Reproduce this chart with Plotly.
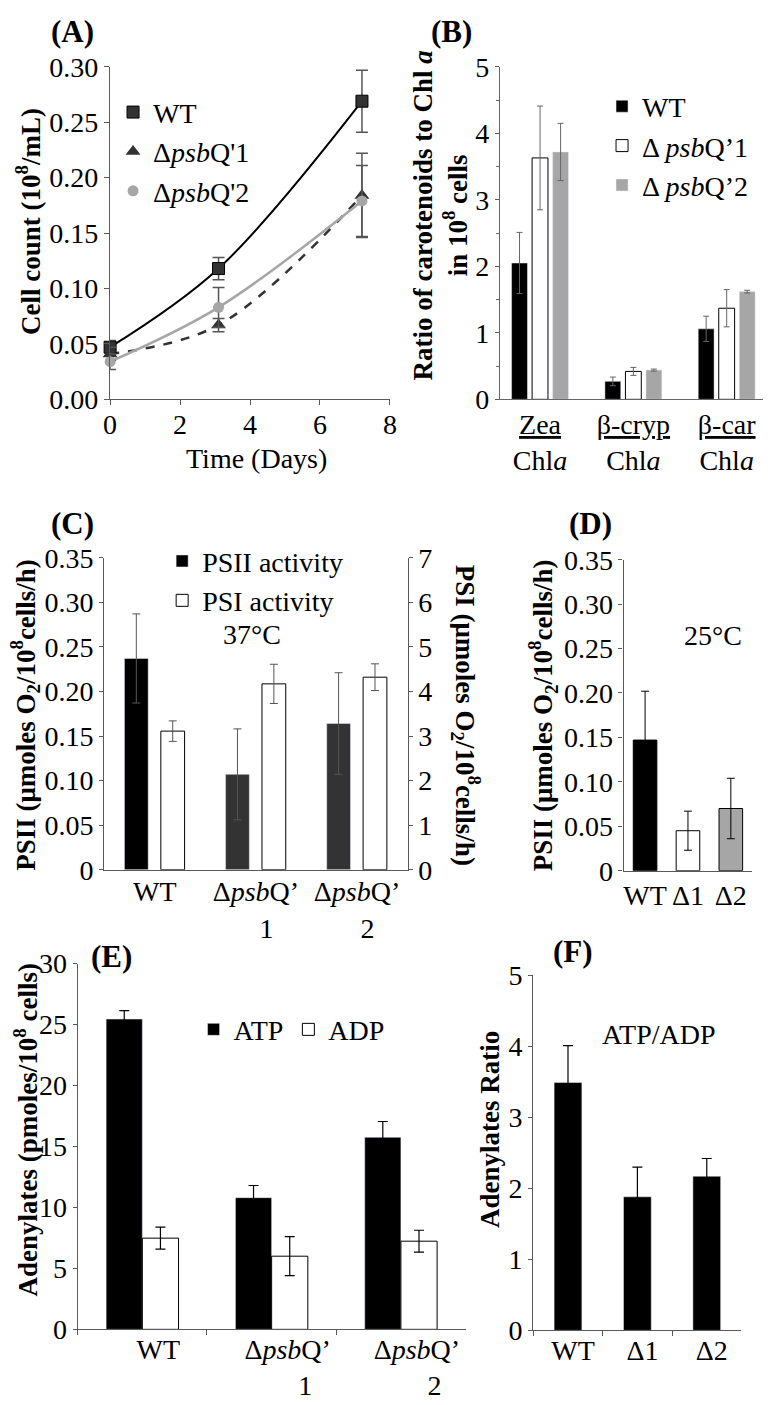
import plotly.graph_objects as go

# ---------------- data ----------------
# (A) growth curves
days = [0, 3.1, 7.2]
wt_count = [0.047, 0.118, 0.269]
wt_count_err = [0.006, 0.010, 0.028]
q1_count = [0.041, 0.067, 0.184]
q1_count_err = [0.006, 0.006, 0.038]
q2_count = [0.034, 0.083, 0.179]
q2_count_err = [0.007, 0.018, 0.032]
days_ticks = [0, 2, 4, 6, 8]

# (B) carotenoid ratios
carot_cats = ["<u>Zea</u><br>Chl<i>a</i>", "<u>β-cryp</u><br>Chl<i>a</i>", "<u>β-car</u><br>Chl<i>a</i>"]
wt_ratio = [2.05, 0.27, 1.06]
wt_ratio_err = [0.46, 0.065, 0.19]
q1_ratio = [3.63, 0.42, 1.37]
q1_ratio_err = [0.78, 0.06, 0.28]
q2_ratio = [3.72, 0.44, 1.62]
q2_ratio_err = [0.43, 0.015, 0.02]

# (C) PSII / PSI activity at 37 C
strains_c = ["WT", "Δ<i>psb</i>Q’<br>\u00a0\u00a0\u00a01", "Δ<i>psb</i>Q’<br>\u00a0\u00a0\u00a02"]
psii_37 = [0.237, 0.107, 0.164]
psii_37_err = [0.050, 0.051, 0.057]
psi_37 = [3.11, 4.17, 4.32]
psi_37_err = [0.23, 0.44, 0.30]
psii_ticks = [0, 0.05, 0.10, 0.15, 0.20, 0.25, 0.30, 0.35]
psii_ticktext = ["0", "0.05", "0.10", "0.15", "0.20", "0.25", "0.30", "0.35"]

# (D) PSII activity at 25 C
strains_short = ["WT", "Δ1", "Δ2"]
psii_25 = [0.147, 0.045, 0.070]
psii_25_err = [0.055, 0.022, 0.034]

# (E) adenylates
strains_e = ["WT", "Δ<i>psb</i>Q’<br>\u00a0\u00a0\u00a0\u00a0\u00a01",
             "Δ<i>psb</i>Q’<br>\u00a0\u00a0\u00a0\u00a0\u00a02"]
atp = [25.45, 10.8, 15.75]
atp_err = [0.7, 1.0, 1.3]
adp = [7.48, 6.0, 7.23]
adp_err = [0.9, 1.6, 0.9]

# (F) ATP/ADP ratio
atp_adp = [3.49, 1.88, 2.17]
atp_adp_err = [0.52, 0.42, 0.25]

# ---------------- layout helpers ----------------
W, H = 774, 1405
FONT = "Liberation Serif"
FS = 28
FT = 27
AX = "#595959"


def fx(px):
    return px / W


def fy(py):
    return 1 - py / H


fig = go.Figure()

# ---- (A) ----
line_styles = [
    (wt_count, dict(color="black", width=2, shape="spline")),
    (q1_count, dict(color="#333333", width=2.5, dash="dash", shape="spline")),
    (q2_count, dict(color="#a6a6a6", width=2.5, shape="spline")),
]
for yv, ln in line_styles:
    fig.add_trace(go.Scatter(x=days, y=yv, mode="lines", line=ln, showlegend=False,
                             xaxis="x", yaxis="y", cliponaxis=False, hoverinfo="skip"))

marker_sets = [
    ("WT", wt_count, wt_count_err, dict(symbol="square", size=12, color="#333333",
                                       line=dict(color="black", width=1))),
    ("Δ<i>psb</i>Q'1", q1_count, q1_count_err, dict(symbol="triangle-up", size=13, color="#333333")),
    ("Δ<i>psb</i>Q'2", q2_count, q2_count_err, dict(symbol="circle", size=11, color="#a6a6a6")),
]
for name, yv, ev, mk in marker_sets:
    fig.add_trace(go.Scatter(x=days, y=yv, mode="markers", marker=mk, name=name,
                             error_y=dict(type="data", array=ev, color="#555555", thickness=1.5, width=6),
                             xaxis="x", yaxis="y", cliponaxis=False, legend="legend"))

# ---- (B) ----
bw_b = 0.17
b_specs = [
    ("WT", wt_ratio, wt_ratio_err, dict(color="black"), -0.305),
    ("Δ <i>psb</i>Q’1", q1_ratio, q1_ratio_err, dict(color="white", line=dict(color="black", width=1)), -0.085),
    ("Δ <i>psb</i>Q’2", q2_ratio, q2_ratio_err, dict(color="#a6a6a6"), 0.135),
]
for name, yv, ev, mk, off in b_specs:
    fig.add_trace(go.Bar(x=carot_cats, y=yv, name=name, marker=mk, width=bw_b, offset=off,
                         error_y=dict(type="data", array=ev, color="#666666", thickness=1, width=3),
                         xaxis="x2", yaxis="y2", legend="legend2"))

# ---- (C) ----
fig.add_trace(go.Bar(x=strains_c, y=psii_37, name="PSII activity",
                     marker=dict(color=["black", "#333333", "#333333"]),
                     width=0.235, offset=-0.30,
                     error_y=dict(type="data", array=psii_37_err, color="#555555", thickness=1, width=4),
                     xaxis="x3", yaxis="y3", legend="legend3"))
fig.add_trace(go.Bar(x=strains_c, y=psi_37, name="PSI activity",
                     marker=dict(color="white", line=dict(color="black", width=1)),
                     width=0.235, offset=0.06,
                     error_y=dict(type="data", array=psi_37_err, color="#555555", thickness=1, width=4),
                     xaxis="x3", yaxis="y4", legend="legend3"))

# ---- (D) ----
fig.add_trace(go.Bar(x=strains_short, y=psii_25, showlegend=False,
                     marker=dict(color=["black", "white", "#a6a6a6"], line=dict(color="black", width=1)),
                     width=0.55,
                     error_y=dict(type="data", array=psii_25_err, color="black", thickness=1, width=4),
                     xaxis="x4", yaxis="y5"))

# ---- (E) ----
fig.add_trace(go.Bar(x=strains_e, y=atp, name="ATP", marker=dict(color="black"),
                     width=0.28, offset=-0.28,
                     error_y=dict(type="data", array=atp_err, color="black", thickness=1.2, width=5),
                     xaxis="x5", yaxis="y6", legend="legend4"))
fig.add_trace(go.Bar(x=strains_e, y=adp, name="ADP",
                     marker=dict(color="white", line=dict(color="black", width=1)),
                     width=0.28, offset=0.0,
                     error_y=dict(type="data", array=adp_err, color="black", thickness=1.2, width=5),
                     xaxis="x5", yaxis="y6", legend="legend4"))

# ---- (F) ----
fig.add_trace(go.Bar(x=strains_short, y=atp_adp, showlegend=False, marker=dict(color="black"),
                     width=0.4,
                     error_y=dict(type="data", array=atp_adp_err, color="black", thickness=1.2, width=5),
                     xaxis="x6", yaxis="y7"))

# ---------------- axes ----------------
tickfont = dict(family=FONT, size=FS, color="black")
base = dict(showgrid=False, zeroline=False, showline=True, linecolor=AX, linewidth=1.3,
            tickfont=tickfont, tickcolor=AX, ticklen=5, tickwidth=1.2)

lay = {}
# A
lay["xaxis"] = dict(base, domain=[fx(105), fx(390)], anchor="y", range=[0, 8],
                    tickvals=days_ticks, ticks="outside", ticklabelstandoff=-5)
lay["yaxis"] = dict(base, domain=[fy(393), fy(53)], anchor="x", range=[0, 0.30],
                    dtick=0.05, tickformat=".2f", ticks="outside")
# B
lay["xaxis2"] = dict(base, domain=[fx(502), fx(770)], anchor="y2", type="category",
                     range=[-0.43, 2.39], ticks="", linecolor="#666666", linewidth=1.2)
lay["yaxis2"] = dict(base, domain=[fy(393), fy(53)], anchor="x2", range=[0, 5], dtick=1,
                     ticks="outside", ticklen=4, linecolor="#666666", linewidth=1,
                     minor=dict(dtick=0.5, ticks="outside", ticklen=3, tickcolor="#666666"))
# C
lay["xaxis3"] = dict(base, domain=[fx(99), fx(408)], anchor="y3", type="category",
                     range=[-0.5, 2.5], ticks="", ticklabelstandoff=-3)
lay["yaxis3"] = dict(base, domain=[fy(874), fy(555)], anchor="x3", range=[0, 0.35],
                     tickvals=psii_ticks, ticktext=psii_ticktext, ticks="outside", ticklen=4)
lay["yaxis4"] = dict(base, domain=[fy(874), fy(555)], anchor="x3", overlaying="y3",
                     side="right", range=[0, 7], dtick=1, ticks="outside", ticklen=4)
# D
lay["xaxis4"] = dict(base, domain=[fx(628), fx(759)], anchor="y5", type="category",
                     range=[-0.5, 2.5], ticks="")
lay["yaxis5"] = dict(base, domain=[fy(875), fy(557)], anchor="x4", range=[0, 0.35],
                     tickvals=psii_ticks, ticktext=psii_ticktext, ticks="outside", ticklen=4)
# E
lay["xaxis5"] = dict(base, domain=[fx(72), fx(467)], anchor="y6", type="category",
                     range=[-0.5, 2.5], ticks="outside", tickson="boundaries",
                     ticklabelshift=16, ticklabelstandoff=-5)
lay["yaxis6"] = dict(base, domain=[fy(1344), fy(970)], anchor="x5", range=[0, 30], dtick=5,
                     ticks="outside", ticklen=4)
# F
lay["xaxis6"] = dict(base, domain=[fx(536), fx(748)], anchor="y7", type="category",
                     range=[-0.5, 2.5], ticks="outside", tickson="boundaries",
                     ticklabelshift=5, ticklabelstandoff=-5)
lay["yaxis7"] = dict(base, domain=[fy(1345), fy(982)], anchor="x6", range=[0, 5], dtick=1,
                     ticks="outside", ticklen=4)

legfont = dict(family=FONT, size=FS, color="black")
lay["legend"] = dict(x=fx(108), y=fy(74), xanchor="left", yanchor="top", font=legfont,
                     bgcolor="rgba(0,0,0,0)", tracegroupgap=0)
lay["legend2"] = dict(x=fx(606), y=fy(68), xanchor="left", yanchor="top", font=legfont,
                      bgcolor="rgba(0,0,0,0)")
lay["legend3"] = dict(x=fx(158), y=fy(533), xanchor="left", yanchor="top", font=legfont,
                      bgcolor="rgba(0,0,0,0)")
lay["legend4"] = dict(x=fx(190), y=fy(1012), xanchor="left", yanchor="top", font=legfont,
                      orientation="h", bgcolor="rgba(0,0,0,0)")


def ann(text, x, y, size=FT, angle=0, bold=False):
    t = f"<b>{text}</b>" if bold else text
    return dict(text=t, x=fx(x), y=fy(y), xref="paper", yref="paper", showarrow=False,
                textangle=angle, xanchor="center", yanchor="middle",
                font=dict(family=FONT, size=size, color="black"))


ylab_psii = "PSII (μmoles O<sub>2</sub>/10<sup>8</sup>cells/h)"
annotations = [
    ann("(A)", 67, 17, 31, bold=True),
    ann("(B)", 453, 17, 31, bold=True),
    ann("(C)", 67, 520, 31, bold=True),
    ann("(D)", 594, 520, 31, bold=True),
    ann("(E)", 106, 963, 31, bold=True),
    ann("(F)", 576, 958, 31, bold=True),
    ann("Cell count (10<sup>8</sup>/mL)", 22, 211, angle=-90, bold=True),
    ann("Time (Days)", 254, 454, size=FS),
    ann("Ratio of carotenoids to Chl <i>a</i><br>in 10<sup>8</sup> cells", 441, 205, angle=-90, bold=True),
    ann(ylab_psii, 19, 716, angle=-90, bold=True),
    ann("PSI (μmoles O<sub>2</sub>/10<sup>8</sup>cells/h)", 467, 716, angle=90, bold=True),
    ann("37°C", 250, 633, size=FS),
    ann(ylab_psii, 546, 716, angle=-90, bold=True),
    ann("25°C", 719, 635, size=FS),
    ann("Adenylates (pmoles/10<sup>8</sup> cells)", 19, 1140, angle=-90, bold=True),
    ann("Adenylates Ratio", 492, 1140, angle=-90, bold=True),
    ann("ATP/ADP", 664, 1043, size=FS),
]

fig.update_layout(
    width=W, height=H, autosize=False,
    margin=dict(l=0, r=0, t=0, b=0),
    paper_bgcolor="white", plot_bgcolor="rgba(0,0,0,0)",
    font=dict(family=FONT, size=FS, color="black"),
    annotations=annotations,
    **lay,
)

fig.write_html("out.html", config={"displayModeBar": False},
               post_script="document.body.style.margin='0';document.body.style.overflow='hidden';")
